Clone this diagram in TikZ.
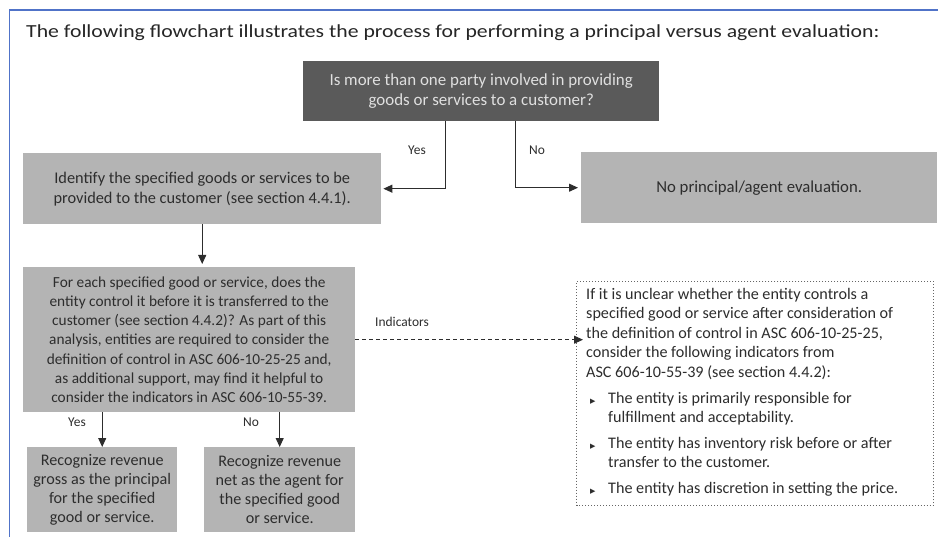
\documentclass[tikz,border=0pt]{standalone}
\usepackage{fontspec}
\setmainfont{Carlito}
\newfontfamily\symfont{DejaVu Sans}
\usetikzlibrary{arrows.meta}
\definecolor{dark}{RGB}{90,90,90}
\definecolor{lite}{RGB}{180,180,180}
\definecolor{ink}{RGB}{45,45,45}
\definecolor{frameblue}{RGB}{80,115,200}
\tikzset{
  box/.style={rectangle, fill=lite, draw=none, inner sep=0pt, anchor=north west, align=center, text=ink},
  topbox/.style={box, fill=dark, text=white!88!black},
  arr/.style={draw=ink, line width=1bp, -{Triangle[length=9bp,width=8bp]}},
  lab/.style={text=ink, font=\fontsize{13.5}{15}\selectfont, inner sep=0pt},
  dotbox/.style={rectangle, draw=black!60, dotted, line width=1bp, inner sep=0pt, anchor=north west},
}
\newcommand{\bul}{\makebox[22bp][l]{\hspace{4bp}{\symfont\fontsize{7}{7}\selectfont ▶}}}
\begin{document}
\begin{tikzpicture}[x=1bp,y=-1bp]
\fill[white] (0,0) rectangle (938,537);
\useasboundingbox (0,0) rectangle (938,537);
\draw[frameblue, line width=1.5bp] (9.5,537) -- (9.5,10) -- (938,10);
\node[anchor=west, text=black!85, font=\fontsize{18.5}{22}\selectfont, inner sep=0pt] (title) at (26,33) {\scalebox{1.178}[1]{The following flowchart illustrates the process for performing a principal versus agent evaluation:}};
\node[topbox, minimum width=356bp, minimum height=60bp, font=\fontsize{17}{20}\selectfont] (top) at (303,61) {Is more than one party involved in providing\\goods or services to a customer?};
\node[box, minimum width=358bp, minimum height=71bp, font=\fontsize{16.4}{20}\selectfont] (ident) at (23,153) {Identify the specified goods or services to be\\provided to the customer (see section 4.4.1).};
\node[box, minimum width=356bp, minimum height=71bp, font=\fontsize{16.8}{20}\selectfont] (noeval) at (581,152) {No principal/agent evaluation.};
\node[box, minimum width=332bp, minimum height=145bp, font=\fontsize{15.4}{19.3}\selectfont] (q) at (23,267) {For each specified good or service, does the\\entity control it before it is transferred to the\\customer (see section 4.4.2)? As part of this\\analysis, entities are required to consider the\\definition of control in ASC 606-10-25-25 and,\\as additional support, may find it helpful to\\consider the indicators in ASC 606-10-55-39.};
\node[box, minimum width=150bp, minimum height=85bp, font=\fontsize{16.2}{19}\selectfont] (gross) at (27,447) {Recognize revenue\\gross as the principal\\for the specified\\good or service.};
\node[box, minimum width=151bp, minimum height=85bp, font=\fontsize{16.2}{19}\selectfont] (net) at (204,447) {Recognize revenue\\net as the agent for\\the specified good\\or service.};
\node[dotbox, minimum width=357bp, minimum height=224bp] (ind) at (576,281) {};
\node[anchor=north west, inner sep=0pt, align=left, text=ink, font=\fontsize{16.2}{19.6}\selectfont] (indtext) at (586,288) {If it is unclear whether the entity controls a\\specified good or service after consideration of\\the definition of control in ASC 606-10-25-25,\\consider the following indicators from\\ASC 606-10-55-39 (see section 4.4.2):\\[6bp]
\bul The entity is primarily responsible for\\
\hspace*{22bp}fulfillment and acceptability.\\[6bp]
\bul The entity has inventory risk before or after\\
\hspace*{22bp}transfer to the customer.\\[6bp]
\bul The entity has discretion in setting the price.};
% connectors
\draw[arr, shorten >=2bp] ([xshift=-36bp]top.south) |- (ident.east);
\draw[arr, shorten >=3bp] ([xshift=34bp]top.south) |- (noeval.west);
\draw[arr, shorten >=3bp] (ident.south) -- (ident.south |- q.north);
\draw[arr] (q.south -| gross.north) -- (gross.north);
\draw[arr] (q.south -| net.north) -- (net.north);
\draw[arr, dashed, dash pattern=on 4bp off 3bp, shorten >=-7bp] (q.east) -- (q.east -| ind.west);
% labels
\node[lab] (lyes1) at (417,150) {Yes};
\node[lab] (lno1) at (537,150) {No};
\node[lab] (lind) at (402,322) {Indicators};
\node[lab] (lyes2) at (77,422) {Yes};
\node[lab] (lno2) at (251,422) {No};
\end{tikzpicture}
\end{document}
